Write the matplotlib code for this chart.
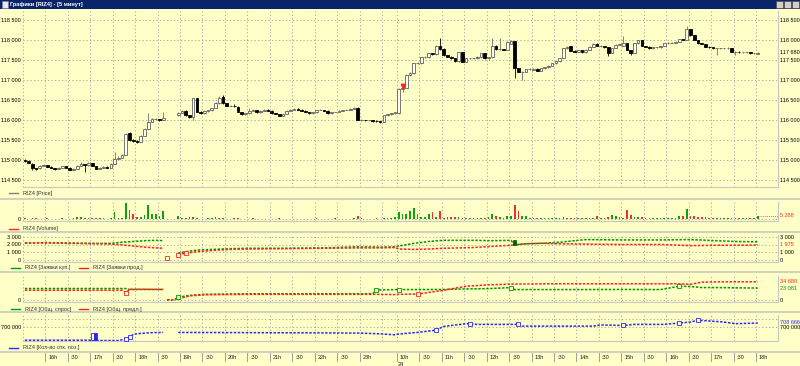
import numpy as np
import matplotlib
matplotlib.use("Agg")
import matplotlib.pyplot as plt
import matplotlib.transforms as mtransforms
from matplotlib.patches import Rectangle
from matplotlib.lines import Line2D

nan = float("nan")
plt.rcParams['font.family'] = ['Liberation Sans', 'DejaVu Sans']

# ---------------- data (5-minute candles, 15:30 day 1 .. 18:00 day 2) ----------------
opens = [
    115000, 114980, 114900, 114790, 114790, 114850, 114870, 114830, 114800, 114780,
    114800, 114840, 114810, 114760, 114780, 114850, 114900, 114870, 114920, 114850,
    114780, 114800, 114830, 114810, 114900, 115030, 115060, 115130, 115680, 115500,
    115480, 115450, 115600, 115780, 115960, 116020, 116020, 116000, nan, nan,
    nan, 116120, 116180, 116230, 116120, 116080, 116540, 116210, 116170, 116220,
    116240, 116300, 116420, 116580, 116420, 116360, 116360, 116330, 116200, 116140,
    116170, 116230, 116250, 116190, 116230, 116260, 116230, 116170, 116150, 116100,
    116150, 116230, 116260, 116280, 116260, 116230, 116200, 116170, 116190, 116250,
    116250, 116230, 116170, 116200, 116200, 116230, 116250, 116260, 116280, 116310,
    116000, 116000, 115990, 116000, 115980, 115970, 115950, 116120, 116140, 116170,
    116170, 116780, 116800, 117120, 117170, 117420, 117420, 117570, 117570, 117670,
    117640, 117860, 117780, 117620, 117580, 117550, 117470, 117690, 117460, 117540,
    117540, 117540, 117570, 117670, 117540, 117570, 117860, 117770, 117770, 117750,
    117900, 117970, 117290, 117210, 117210, 117270, 117250, 117280, 117230, 117290,
    117320, 117360, 117420, 117470, 117560, 117790, 117850, 117730, 117700, 117750,
    117690, 117760, 117830, 117910, 117850, 117850, 117820, 117680, 117800, 117880,
    117850, 117920, 117750, 117680, 117920, 117990, 117850, 117830, 117790, 117820,
    117820, 117850, 117920, 117930, 117930, 117960, 118020, 118000, 118270, 118120,
    118000, 117920, 117900, 117830, 117820, 117790, 117790, 117790, 117790, 117790,
    117710, 117710, 117690, 117690, 117690, 117670, 117660,
]
highs = [
    115030, 114990, 114920, 114810, 114870, 114890, 114880, 114840, 114810, 114820,
    114860, 114850, 114820, 114790, 114870, 114960, 114910, 114940, 114930, 114860,
    114820, 114840, 114840, 114920, 115200, 115090, 115140, 115670, 115700, 115520,
    115500, 115620, 115800, 116170, 116040, 116040, 116030, 116190, nan, nan,
    nan, 116200, 116250, 116240, 116130, 116560, 116560, 116220, 116240, 116260,
    116310, 116440, 116600, 116630, 116430, 116380, 116400, 116340, 116210, 116180,
    116290, 116270, 116260, 116240, 116270, 116270, 116240, 116180, 116160, 116160,
    116240, 116270, 116300, 116290, 116270, 116240, 116210, 116200, 116260, 116270,
    116260, 116240, 116210, 116210, 116240, 116260, 116270, 116290, 116330, 116320,
    116020, 116010, 116010, 116010, 115990, 115980, 116130, 116150, 116180, 116200,
    116800, 116820, 117140, 117190, 117430, 117440, 117580, 117590, 117680, 117680,
    117870, 118060, 117790, 117630, 117590, 117560, 117700, 117700, 117560, 117560,
    117560, 117590, 117680, 117680, 117580, 118040, 117870, 118050, 117780, 117970,
    118000, 117980, 117300, 117230, 117280, 117290, 117300, 117290, 117300, 117330,
    117370, 117430, 117480, 117550, 117800, 117850, 117860, 117740, 117760, 117760,
    117780, 117840, 117920, 117920, 117870, 117860, 117830, 117810, 117890, 117910,
    118100, 117930, 117760, 117930, 118000, 118000, 117860, 117840, 117830, 117830,
    117860, 117930, 117940, 117950, 117970, 118030, 118030, 118350, 118280, 118130,
    118010, 117930, 117910, 117840, 117830, 117810, 117810, 117800, 117830, 117800,
    117720, 117720, 117700, 117700, 117700, 117680, 117700,
]
lows = [
    114960, 114920, 114750, 114740, 114780, 114840, 114820, 114790, 114760, 114770,
    114790, 114800, 114750, 114750, 114770, 114840, 114700, 114860, 114840, 114770,
    114770, 114790, 114800, 114800, 114890, 115020, 115050, 115120, 115480, 115460,
    115420, 115440, 115590, 115770, 115950, 116000, 115980, 115990, nan, nan,
    nan, 116110, 116170, 116100, 116060, 116000, 116200, 116150, 116160, 116210,
    116230, 116290, 116410, 116400, 116340, 116340, 116330, 116190, 116120, 116130,
    116160, 116220, 116170, 116180, 116220, 116220, 116160, 116140, 116090, 116090,
    116140, 116220, 116250, 116250, 116220, 116190, 116160, 116160, 116180, 116240,
    116220, 116160, 116160, 116190, 116190, 116220, 116240, 116250, 116270, 115990,
    115980, 115970, 115980, 115960, 115950, 115920, 115940, 116100, 116130, 116160,
    116150, 116700, 116790, 117100, 117160, 117390, 117410, 117540, 117560, 117620,
    117630, 117760, 117610, 117570, 117530, 117460, 117460, 117450, 117450, 117520,
    117520, 117530, 117560, 117530, 117500, 117560, 117750, 117750, 117740, 117740,
    117890, 117040, 117200, 117000, 117200, 117250, 117240, 117220, 117220, 117280,
    117310, 117350, 117410, 117460, 117550, 117780, 117720, 117690, 117690, 117680,
    117680, 117750, 117820, 117840, 117830, 117810, 117600, 117670, 117790, 117870,
    117840, 117740, 117620, 117670, 117910, 117840, 117820, 117780, 117780, 117800,
    117810, 117840, 117910, 117920, 117920, 117950, 117990, 117990, 118110, 117990,
    117910, 117890, 117820, 117810, 117780, 117620, 117780, 117780, 117780, 117700,
    117620, 117680, 117680, 117670, 117660, 117650, 117650,
]
closes = [
    114980, 114930, 114790, 114780, 114850, 114870, 114830, 114800, 114780, 114800,
    114840, 114810, 114760, 114770, 114850, 114900, 114870, 114920, 114850, 114780,
    114800, 114830, 114810, 114900, 115030, 115060, 115120, 115650, 115500, 115480,
    115450, 115600, 115780, 115960, 116020, 116020, 116000, 116060, nan, nan,
    nan, 116180, 116230, 116120, 116080, 116540, 116210, 116170, 116220, 116240,
    116290, 116420, 116560, 116420, 116360, 116360, 116350, 116200, 116140, 116170,
    116230, 116250, 116190, 116230, 116260, 116230, 116170, 116150, 116100, 116150,
    116230, 116260, 116280, 116260, 116230, 116200, 116170, 116190, 116250, 116250,
    116230, 116170, 116200, 116200, 116230, 116250, 116260, 116280, 116310, 116000,
    116000, 115990, 116000, 115980, 115970, 115950, 116120, 116140, 116170, 116190,
    116780, 116800, 117120, 117170, 117420, 117420, 117570, 117570, 117670, 117640,
    117860, 117780, 117620, 117580, 117550, 117470, 117690, 117460, 117540, 117540,
    117540, 117570, 117670, 117540, 117570, 117860, 117770, 117770, 117750, 117960,
    117970, 117290, 117210, 117210, 117270, 117270, 117280, 117230, 117290, 117320,
    117360, 117420, 117470, 117540, 117790, 117830, 117730, 117700, 117750, 117690,
    117760, 117830, 117910, 117850, 117850, 117820, 117680, 117800, 117880, 117900,
    117920, 117750, 117680, 117920, 117990, 117850, 117830, 117790, 117820, 117820,
    117850, 117920, 117930, 117930, 117960, 118020, 118000, 118270, 118120, 118000,
    117920, 117900, 117830, 117820, 117790, 117790, 117790, 117790, 117790, 117710,
    117710, 117690, 117690, 117690, 117670, 117670, 117680,
]
volumes = [
    2500, 1500, 2000, 2500, 1500, 1500, 2000, 1500, 1500, 1500,
    2000, 1500, 1500, 2000, 3500, 4500, 3000, 2500, 2000, 2000,
    2000, 2500, 1500, 3000, 12000, 3000, 3000, 27000, 16000, 10000,
    4500, 4500, 7500, 24000, 10000, 8500, 6000, 14000, nan, nan,
    nan, 6000, 3000, 3000, 4500, 4500, 2000, 1500, 1500, 2000,
    2500, 3500, 2000, 2500, 1500, 1500, 2000, 2500, 1500, 1500,
    1500, 2000, 1500, 1500, 1500, 1000, 1500, 1500, 2000, 1500,
    1500, 1500, 1000, 1500, 1500, 1500, 1000, 1500, 2000, 1500,
    1500, 1500, 1500, 2000, 1500, 1500, 1500, 1500, 2000, 5000,
    2000, 1500, 1500, 1500, 2000, 1500, 3000, 2000, 2000, 3500,
    13000, 10000, 10000, 14000, 20000, 8500, 4500, 4500, 10000, 13000,
    4500, 14000, 3000, 4500, 3500, 4500, 4500, 2000, 2500, 3000,
    2500, 2500, 3000, 2000, 4500, 10000, 6000, 4500, 3000, 6000,
    6000, 25000, 14000, 6000, 6000, 3000, 3000, 2000, 2500, 2000,
    2000, 2500, 2000, 3000, 3500, 2500, 2000, 2000, 2500, 2000,
    2000, 2500, 2500, 6000, 3000, 3000, 4500, 7500, 6000, 4000,
    3000, 16000, 7500, 4500, 4500, 4500, 2000, 2000, 2500, 2000,
    2500, 2000, 2000, 2500, 3000, 6000, 6000, 17500, 6000, 6000,
    4500, 4500, 4500, 3000, 3000, 2000, 3000, 2000, 3000, 3000,
    2000, 2000, 2000, 2000, 2000, 2000, 5288,
]
trade_mark_idx = 101
trade_mark_price = 116840

orders_idx = [0, 6, 12, 18, 23, 26, 29, 32, 35, 37, 38, 39, 41, 43, 46, 50, 55, 60, 70, 80,
              89, 95, 99, 100, 104, 108, 112, 120, 125, 130, 131, 134, 138, 143, 150, 160,
              170, 178, 185, 190, 196]
bids = [2250, 2300, 2250, 2200, 2200, 2350, 2450, 2550, 2600, 2550, 250, nan, 900, 1100, 1300,
        1400, 1500, 1550, 1550, 1600, 1750, 1700, 1750, 1850, 2200, 2450, 2600, 2600, 2550,
        2600, 2000, 2150, 2200, 2350, 2700, 2650, 2650, 2700, 2550, 2450, 2400]
asks = [2250, 2250, 2200, 2150, 2100, 2000, 1850, 1700, 1600, 1550, 200, nan, 700, 900, 1100,
        1250, 1400, 1450, 1500, 1550, 1600, 1600, 1650, 1450, 1400, 1450, 1550, 1650, 1800,
        1950, 2000, 2150, 2200, 2150, 2100, 2050, 2050, 1900, 1950, 1950, 1975]

totals_idx = [0, 10, 20, 26, 27, 28, 32, 37, 38, 40, 41, 44, 48, 60, 80, 93, 94, 99, 100, 105,
              112, 118, 124, 130, 131, 140, 150, 160, 170, 175, 178, 181, 185, 190, 196]
demand = [22200, 22200, 22200, 22200, 22200, 20500, 20500, 20500, 1300, 1300, 6000, 9500,
          11500, 12500, 12600, 12600, 19500, 20200, 20300, 20300, 20500, 21500, 22000, 24000,
          20300, 20300, 20300, 20500, 20300, 26500, 26000, 24000, 24000, 23500, 23081]
supply = [19000, 19000, 19000, 19000, 14600, 20800, 20800, 20500, 1300, 1300, 3000, 8500,
          10500, 11400, 11400, 11400, 11400, 11000, 11400, 12000, 19000, 26500, 29000, 30500,
          30500, 31000, 31000, 31000, 31000, 31000, 30000, 34000, 34500, 34700, 34680]

oi_idx = [0, 17, 20, 25, 26, 27, 28, 29, 31, 34, 37, 39, 41, 60, 80, 90, 95, 99, 100, 105, 109,
          110, 112, 118, 119, 121, 131, 132, 133, 152, 154, 160, 163, 171, 175, 178, 180, 183,
          187, 190, 196]
open_interest = [672700, 672700, 672000, 672000, 673500, 676000, 679000, 685000, 687000, 688500,
                 689000, nan, 689000, 688500, 688000, 687500, 686000, 684000, 685600, 689000,
                 692800, 694000, 701500, 707300, 707500, 705800, 705800, 706000, 702200, 702200,
                 704700, 703500, 705800, 705800, 708700, 710700, 714500, 713000, 710700, 707300,
                 708666]
oi_box_idx = [18, 19]
oi_box_low = [672700, 672000]
oi_box_high = [687000, 687500]

day1_time_labels = ["", "16h", ":30", "17h", ":30", "18h", ":30", "19h", ":30", "20h", ":30",
                    "21h", ":30", "22h", ":30", "23h", ""]
day2_time_labels = ["10h", ":30", "11h", ":30", "12h", ":30", "13h", ":30", "14h", ":30",
                    "15h", ":30", "16h", ":30", "17h", ":30", "18h"]
date_label = "24"
price_ticks = [114500, 115000, 115500, 116000, 116500, 117000, 117500, 118000, 118500]
order_ticks = [0, 1000, 2000, 3000]
clearing_start = 38

# ---------------- layout helpers ----------------
W, H = 800, 366
BG = "#FFFFC8"
GRID = "#A8A8A0"
FS = 3.95
FSL = 3.95
GREEN = "#009A00"
RED = "#FF2020"
BLUE = "#2828FF"

fig = plt.figure(figsize=(W / 100, H / 100), dpi=100)
fig.patch.set_facecolor(BG)

PL, PR = 23, 778


def px_axes(y0, y1, x0=PL, x1=PR):
    ax = fig.add_axes([x0 / W, 1 - y1 / H, (x1 - x0) / W, (y1 - y0) / H])
    ax.set_facecolor(BG)
    for s in ax.spines.values():
        s.set_color("#C8C8C0")
        s.set_linewidth(0.8)
    ax.spines["left"].set_visible(False)
    ax.spines["top"].set_visible(False)
    ax.set_xticks([])
    ax.set_yticks([])
    return ax


n = len(closes)
assert len(opens) == len(highs) == len(lows) == n == len(volumes)
x = np.arange(n)
O = np.array(opens, float)
Hh = np.array(highs, float)
L = np.array(lows, float)
C = np.array(closes, float)
V = np.array(volumes, float)
up = C >= O

grid_pos = [-0.5 + 6 * k for k in range(len(day1_time_labels))] + \
           [99.5 + 6 * k for k in range(len(day2_time_labels))]
XMIN, XMAX = -0.5, 201.4


def vgrid(ax):
    for g in grid_pos:
        ax.axvline(g, color=GRID, lw=0.7, ls=(0, (1.2, 2.4)), zorder=0)


def hgrid(ax, vals):
    for v in vals:
        ax.axhline(v, color=GRID, lw=0.7, ls=(0, (1.2, 2.4)), zorder=0)


def fmt(v):
    return f"{int(round(v)):,}".replace(",", " ")


def side_label(ax, v, side, color="black", text=None, box=False):
    tr = ax.get_yaxis_transform()
    t = text if text is not None else fmt(v)
    kw = dict(transform=tr, va="center", fontsize=FS, color=color, clip_on=False)
    if box:
        kw["bbox"] = dict(facecolor=BG, edgecolor="none", pad=0.3)
    if side == "left":
        ax.text(-2.0 / 755, v, t, ha="right", **kw)
    else:
        ax.text(1 + 2.0 / 755, v, t, ha="left", **kw)


def legend(y, items):
    for (x0, color, text) in items:
        fig.add_artist(Line2D([x0 / W, (x0 + 9) / W], [1 - y / H, 1 - y / H],
                              color=color, lw=1.0, transform=fig.transFigure))
        fig.text((x0 + 14) / W, 1 - y / H, text, fontsize=FSL, color="#303030",
                 ha="left", va="center")


def sep(y):
    fig.add_artist(Line2D([0, 1], [1 - y / H, 1 - y / H], color="#C8C8C0", lw=1.2,
                          transform=fig.transFigure))


def split_plot(ax, idx, vals, color):
    idx = np.array(idx, float)
    vals = np.array(vals, float)
    for m in (idx < clearing_start, idx >= clearing_start):
        ax.plot(idx[m], vals[m], color=color, lw=1.1, ls=(0, (1.6, 1.0)), zorder=3)

# ---------------- title bar ----------------
fig.add_artist(Rectangle((0, 1 - 9 / H), 1, 9 / H, transform=fig.transFigure,
                         facecolor="#0A246A", edgecolor="none"))
fig.add_artist(Rectangle((1.5 / W, 1 - 7.5 / H), 6 / W, 6 / H, transform=fig.transFigure,
                         facecolor="#E8E8F0", edgecolor="#8080A0", lw=0.4))
fig.text(10 / W, 1 - 4.6 / H, "Графики [RIZ4] - [5 минут]", color="white", fontsize=4.1,
         ha="left", va="center", fontweight="bold")
for bx in (776, 784, 792):
    fig.add_artist(Rectangle((bx / W, 1 - 8 / H), 7 / W, 7 / H, transform=fig.transFigure,
                             facecolor="#D4D0C8", edgecolor="#404040", lw=0.4))

# ---------------- price panel ----------------
axp = px_axes(11, 187)
axp.set_xlim(XMIN, XMAX)
axp.set_ylim(114325, 118725)
vgrid(axp)
hgrid(axp, price_ticks)
wick_col = np.where(up, "#707070", "black")
axp.vlines(x, L, Hh, colors=wick_col, lw=0.6, zorder=2)
body_lo = np.minimum(O, C)
body_h = np.abs(C - O)
axp.bar(x[up], body_h[up], bottom=body_lo[up], width=0.72, facecolor="#FFFFF0",
        edgecolor="#606060", lw=0.6, zorder=3)
axp.bar(x[~up], body_h[~up], bottom=body_lo[~up], width=0.72, facecolor="black",
        edgecolor="black", lw=0.6, zorder=3)
axp.plot([trade_mark_idx], [trade_mark_price], marker="v", color=RED, ms=3.2, zorder=4)
for t in price_ticks:
    side_label(axp, t, "left")
    side_label(axp, t, "right")
side_label(axp, C[-1], "right", box=True)
legend(193, [(9, "#808080", "RIZ4 [Price]")])
sep(198.5)

# ---------------- volume panel ----------------
axv = px_axes(202, 221.5)
axv.set_xlim(XMIN, XMAX)
axv.set_ylim(-3500, 29500)
vgrid(axv)
hgrid(axv, [0])
vcol = np.where(up, "#10A010", "#F03030")
axv.bar(x, V, width=0.45, color=vcol, zorder=3)
axv.plot([x[-1], XMAX], [V[-1], V[-1]], color=RED, lw=0.6, ls=(0, (1, 1.5)), zorder=2)
side_label(axv, 0, "left")
side_label(axv, V[-1] + 600, "right", color=RED, text=fmt(V[-1]), box=True)
legend(228.5, [(9, RED, "RIZ4 [Volume]")])
sep(232)

# ---------------- orders panel ----------------
axo = px_axes(235, 262)
axo.set_xlim(XMIN, XMAX)
axo.set_ylim(-264, 3304)
vgrid(axo)
hgrid(axo, order_ticks)
split_plot(axo, orders_idx, bids, GREEN)
split_plot(axo, orders_idx, asks, RED)
axo.add_patch(Rectangle((130.6, 2000), 0.8, 600, facecolor="#006000", edgecolor="#006000",
                        lw=0.5, zorder=4))
for i in (38, 41, 43):
    axo.plot([i], [asks[orders_idx.index(i)]], marker="s", ms=2.6, mfc=BG, mec=RED, mew=0.6,
             zorder=4)
for t in order_ticks:
    side_label(axo, t, "left")
for t in (0, 1000, 3000):
    side_label(axo, t, "right", box=True)
side_label(axo, asks[-1] + 60, "right", color=RED, text=fmt(asks[-1]), box=True)
legend(268, [(11, GREEN, "RIZ4 [Заявки куп.]"), (79, RED, "RIZ4 [Заявки прод.]")])
sep(272)

# ---------------- totals panel ----------------
axt = px_axes(276, 301.5)
axt.set_xlim(XMIN, XMAX)
axt.set_ylim(-1900, 45500)
vgrid(axt)
hgrid(axt, [0])
split_plot(axt, totals_idx, demand, GREEN)
split_plot(axt, totals_idx, supply, RED)
for i in (27, 105):
    axt.plot([i], [supply[totals_idx.index(i)]], marker="s", ms=2.6, mfc=BG, mec=RED,
             mew=0.6, zorder=4)
for i in (41, 94, 100, 130, 175):
    axt.plot([i], [demand[totals_idx.index(i)]], marker="s", ms=2.6, mfc=BG, mec=GREEN,
             mew=0.6, zorder=4)
side_label(axt, 0, "left")
side_label(axt, 0, "right")
side_label(axt, supply[-1], "right", color=RED, box=True)
side_label(axt, demand[-1] - 800, "right", color=GREEN, text=fmt(demand[-1]), box=True)
legend(309, [(11, GREEN, "RIZ4 [Общ. спрос]"), (79, RED, "RIZ4 [Общ. предл.]")])
sep(312)

# ---------------- open interest panel ----------------
axi = px_axes(315, 341)
axi.set_xlim(XMIN, XMAX)
axi.set_ylim(671000, 725500)
vgrid(axi)
hgrid(axi, [700000, 718000])
axi.plot(oi_idx, open_interest, color=BLUE, lw=1.1, ls=(0, (1.6, 1.0)), zorder=3)
for i, lo, hi, filled in zip(oi_box_idx, oi_box_low, oi_box_high, (False, True)):
    axi.add_patch(Rectangle((i - 0.4, lo), 0.8, hi - lo, facecolor=BLUE if filled else BG,
                            edgecolor=BLUE, lw=0.6, zorder=4))
for i in (27, 28, 110, 119, 132, 160, 175, 180):
    axi.plot([i], [open_interest[oi_idx.index(i)]], marker="s", ms=2.6, mfc=BG, mec=BLUE,
             mew=0.6, zorder=4)
side_label(axi, 700000, "left")
side_label(axi, 700000, "right")
side_label(axi, open_interest[-1] + 1500, "right", color=BLUE, text=fmt(open_interest[-1]),
           box=True)
legend(348, [(9, BLUE, "RIZ4 [Кол-во отк. поз.]")])
sep(351.5)

# ---------------- time axis ----------------
axx = px_axes(352, 366)
axx.set_xlim(XMIN, XMAX)
axx.set_ylim(0, 1)
for s in axx.spines.values():
    s.set_visible(False)
labels = day1_time_labels + day2_time_labels
off = mtransforms.offset_copy(axx.transData, fig=fig, x=3, y=0, units="dots")
for g, lab in zip(grid_pos, labels):
    if not lab:
        continue
    axx.plot([g, g], [0.35, 0.95], color="#909090", lw=0.6)
    axx.text(g, 0.62, lab, transform=off, fontsize=FSL, ha="left", va="center",
             color="#202020")
axx.text(99.5, 0.08, date_label, transform=mtransforms.offset_copy(axx.transData, fig=fig,
         x=1, y=0, units="dots"), fontsize=FSL, ha="left", va="center", color="#202020",
         clip_on=False)

fig.savefig("out.png", dpi=100, facecolor=BG)
